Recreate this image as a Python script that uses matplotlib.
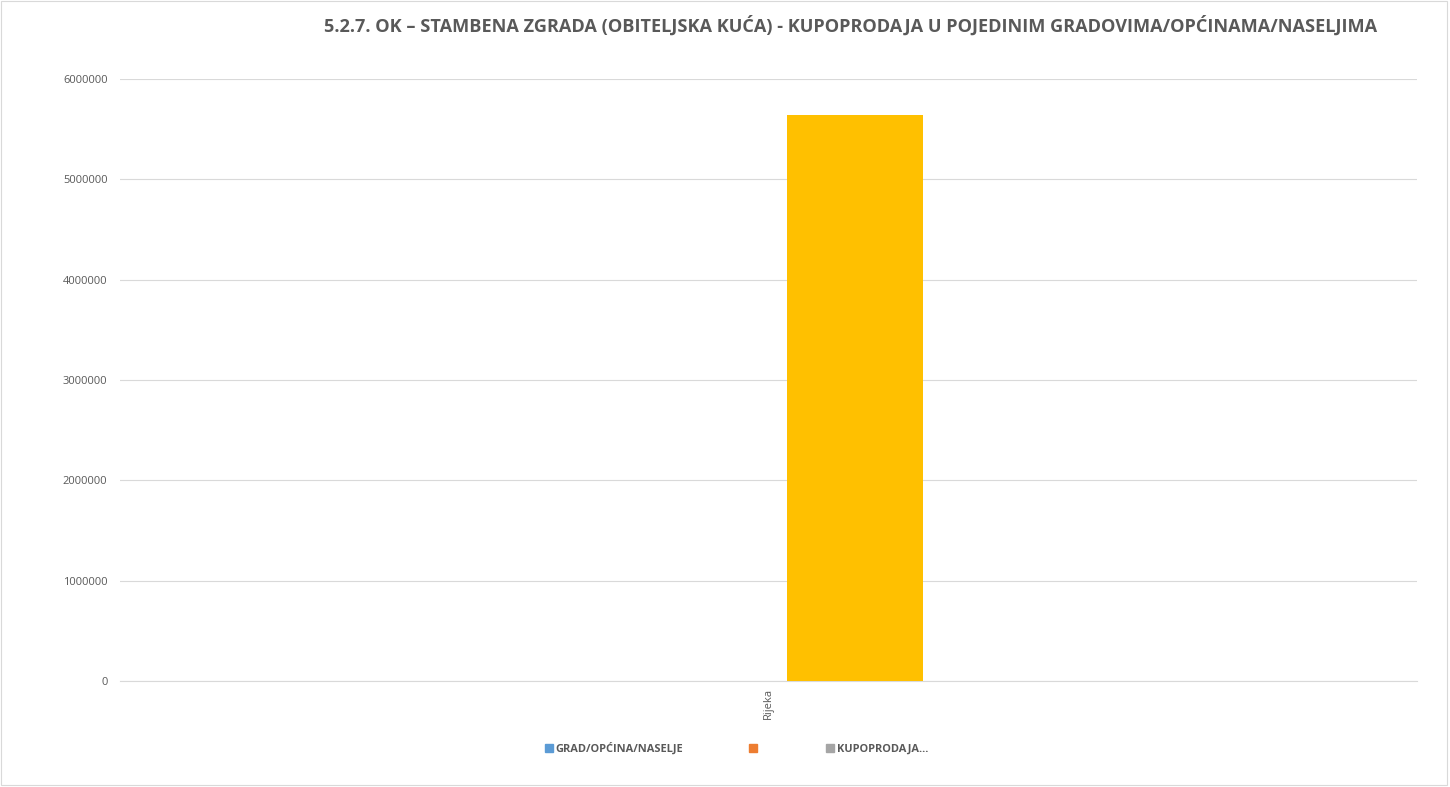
import matplotlib
matplotlib.use("Agg")
import matplotlib.pyplot as plt
from matplotlib.lines import Line2D
from matplotlib.patches import Rectangle

categories = ["Rijeka"]
series_names = ["GRAD/OPĆINA/NASELJE", "", "KUPOPRODAJA...", "_nolegend_"]
series_colors = ["#5B9BD5", "#ED7D31", "#A5A5A5", "#FFC000"]
series_values = [[0], [0], [0], [5640000]]
yticks = [0, 1000000, 2000000, 3000000, 4000000, 5000000, 6000000]
title = "5.2.7. OK – STAMBENA ZGRADA (OBITELJSKA KUĆA) - KUPOPRODAJA U POJEDINIM GRADOVIMA/OPĆINAMA/NASELJIMA"

plt.rcParams['font.family'] = ['Open Sans', 'DejaVu Sans']
W, H = 1450, 787
fig = plt.figure(figsize=(W / 100, H / 100), dpi=100)
ax = fig.add_axes([120 / W, 1 - 681 / H, (1417 - 120) / W, (681 - 79) / H])

text_color = "#595959"
grid_color = "#D9D9D9"

# bar geometry (category units)
bar_w = 0.1056
offsets = [-0.40, -0.30, -0.20, 0.0139]
x = list(range(len(categories)))
for vals, off, col, name in zip(series_values, offsets, series_colors, series_names):
    ax.bar([xi + off for xi in x], vals, width=bar_w, align='edge', color=col,
           label=name, zorder=3)

ax.set_xlim(-0.5, 0.5)
ax.set_ylim(0, 6000000)
ax.set_yticks(yticks)
ax.set_yticklabels([str(v) for v in yticks])
ax.yaxis.grid(True, color=grid_color, linewidth=0.8, zorder=0)
ax.set_xticks(x)
ax.set_xticklabels(categories, rotation=90)
for s in ["left", "right", "top"]:
    ax.spines[s].set_visible(False)
ax.spines["bottom"].set_color(grid_color)
ax.spines["bottom"].set_linewidth(0.8)
ax.tick_params(axis='y', length=0, pad=9, labelsize=8, labelcolor=text_color)
ax.tick_params(axis='x', length=0, pad=5, labelsize=8, labelcolor=text_color)

fig.text(850.5 / W, 1 - 26 / H, title, ha='center', va='center', fontsize=13.1,
         fontweight='bold', color=text_color)

handles = [Line2D([], [], marker='s', linestyle='none', markersize=5.5,
                  markerfacecolor=c, markeredgecolor=c) for c in series_colors[:3]]
leg = fig.legend(handles, series_names[:3], loc='center', ncol=3,
                 bbox_to_anchor=(737 / W, 1 - 749 / H), frameon=False,
                 handlelength=0.6, handletextpad=0.3, columnspacing=6.1,
                 prop={'size': 7.9, 'weight': 'bold'})
for t in leg.get_texts():
    t.set_color(text_color)

fig.patches.append(Rectangle((1 / W, 2 / H), 1 - 4 / W, 1 - 3 / H, transform=fig.transFigure,
                             fill=False, edgecolor="#D9D9D9", linewidth=0.8))

fig.savefig("out.png", dpi=100, facecolor="white")
